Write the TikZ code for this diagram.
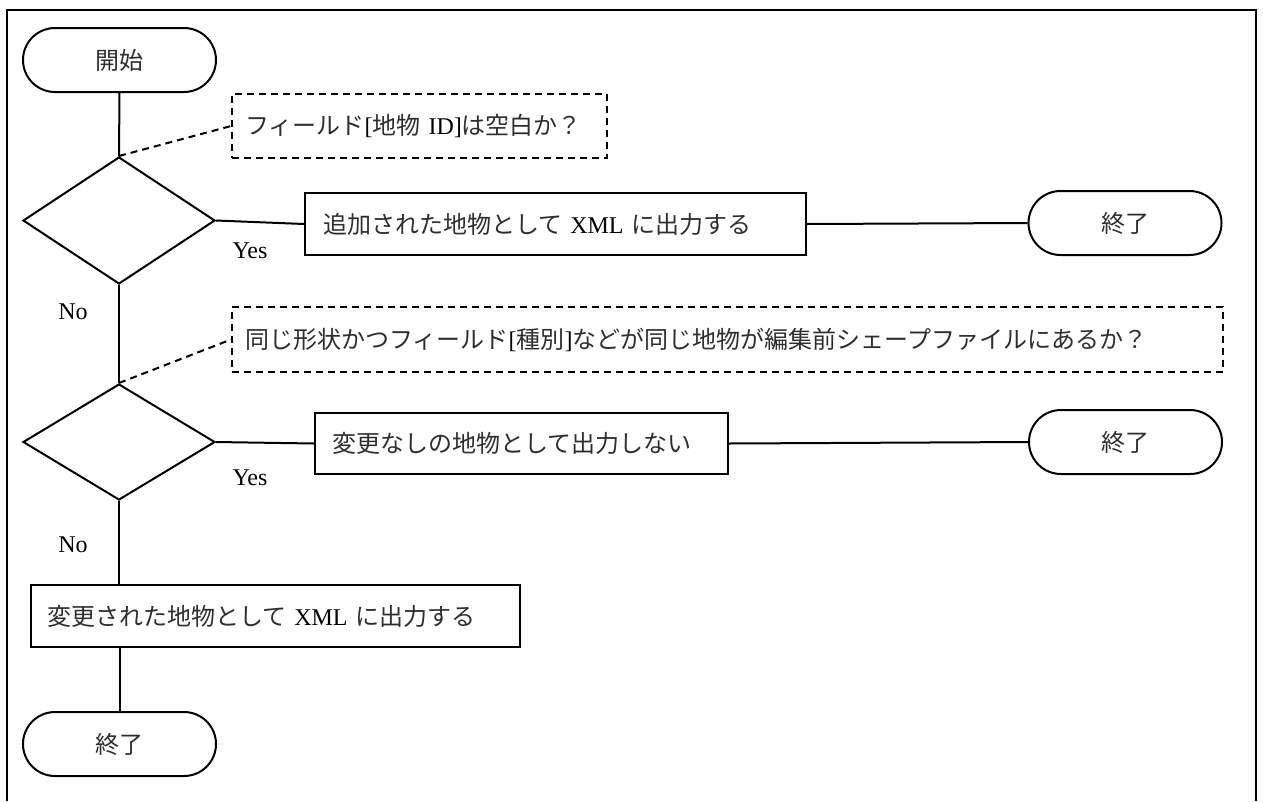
\documentclass[tikz,border=0pt]{standalone}
\usepackage{fontspec}
\setmainfont{Liberation Serif}
\newfontfamily\cjk{Noto Sans CJK JP}
\newcommand{\jp}[1]{{\cjk\fontsize{24}{28}\selectfont\color{black!82}#1}}
\usetikzlibrary{shapes.geometric}
\begin{document}
\begin{tikzpicture}[x=1pt,y=-1pt,
  font=\fontsize{24}{28}\selectfont,
  ln/.style={line width=2pt},
  term/.style={draw, line width=2pt, rounded corners=32pt, minimum width=193pt, minimum height=64pt, inner sep=0pt},
  dec/.style={draw, diamond, line width=2pt, inner sep=0pt, minimum width=192pt},
  procbox/.style={draw, line width=2pt, align=left, inner ysep=0pt},
  note/.style={draw, dashed, dash pattern=on 7pt off 5pt, line width=1.8pt, align=left, inner ysep=0pt},
  lbl/.style={inner sep=0pt}]
\useasboundingbox (0,0) rectangle (1263,801);
% outer frame (open at bottom)
\draw[line width=2pt] (7,801) -- (7,10) -- (1256,10) -- (1256,801);

% nodes
\node[term] (start) at (119.5,60) {\jp{開始}};
\node[dec, minimum height=127pt] (d1) at (119,220.5) {};
\node[note, text width=349pt, inner xsep=13pt, minimum height=64pt] (n1) at (419.5,126)
  {\jp{フィールド}[\jp{地物} ID]\jp{は空白か？}};
\node[procbox, text width=465pt, inner xsep=18pt, minimum height=62pt] (b1) at (555.5,224)
  {\jp{追加された地物として} XML \jp{に出力する}};
\node[term] (e1) at (1125,223) {\jp{終了}};

\node[dec, minimum height=116pt] (d2) at (119,442) {};
\node[note, text width=965pt, inner xsep=13pt, minimum height=65pt] (n2) at (727.5,339.5)
  {\jp{同じ形状かつフィールド}[\jp{種別}]\jp{などが同じ地物が編集前シェープファイルにあるか？}};
\node[procbox, text width=379pt, inner xsep=17pt, minimum height=61pt] (b2) at (521.5,443.5)
  {\jp{変更なしの地物として出力しない}};
\node[term] (e2) at (1125.5,442) {\jp{終了}};

\node[procbox, text width=457pt, inner xsep=16pt, minimum height=62pt] (b3) at (275.5,616)
  {\jp{変更された地物として} XML \jp{に出力する}};
\node[term] (e3) at (119.5,744) {\jp{終了}};

% labels
\node[lbl] (y1) at (250,251) {Yes};
\node[lbl] (y2) at (250,478) {Yes};
\node[lbl] (no1) at (73,312) {No};
\node[lbl] (no2) at (73,545) {No};

% connectors
\draw[ln] (start.south) -- (d1.north);
\draw[ln] (d1.east) -- (b1.west);
\draw[ln] (b1.east) -- (e1.west);
\draw[ln] (d1.south) -- (d2.north);
\draw[ln] (d2.east) -- (b2.west);
\draw[ln] (b2.east) -- (e2.west);
\draw[ln] (d2.south) -- (d2.south |- b3.north);
\draw[ln] (e3.north |- b3.south) -- (e3.north);
\draw[ln, dashed, dash pattern=on 7pt off 5pt] (d1.north) -- (n1.west);
\draw[ln, dashed, dash pattern=on 7pt off 5pt] (d2.north) -- (n2.west);
\end{tikzpicture}
\end{document}
